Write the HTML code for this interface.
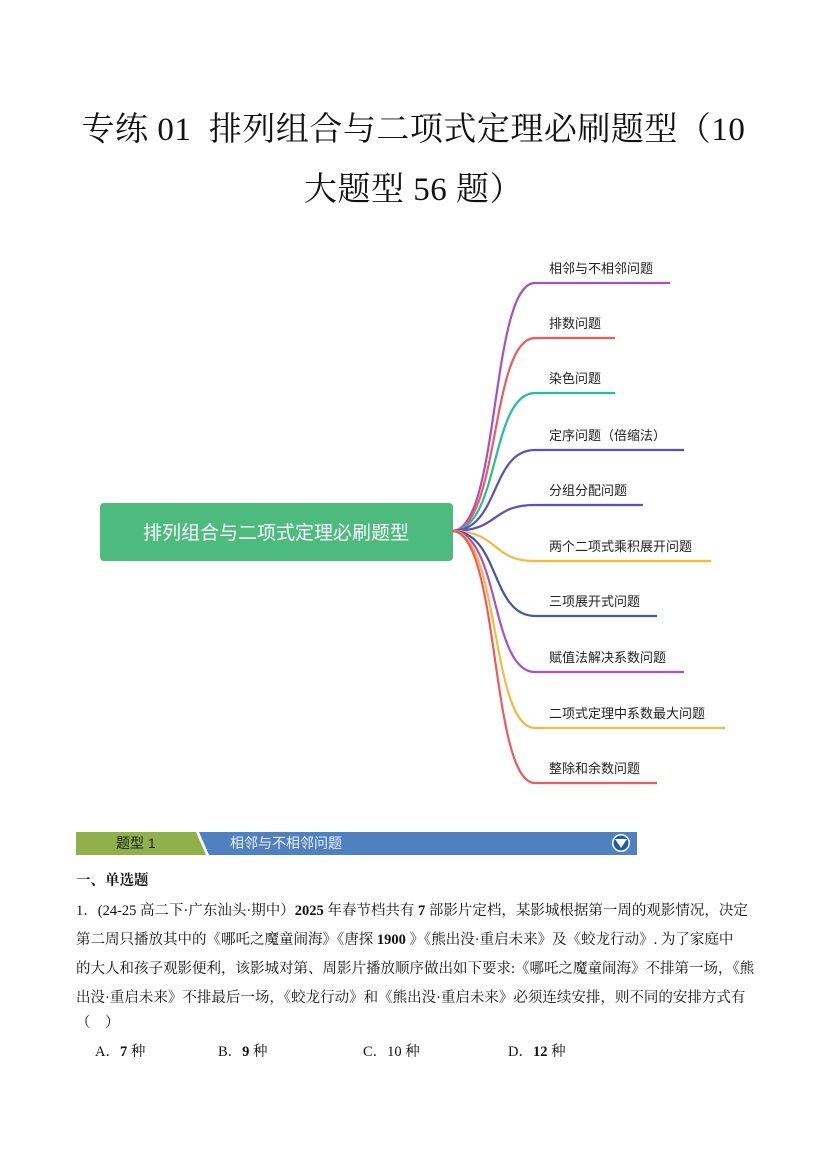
<!DOCTYPE html>
<html><head><meta charset="utf-8"><style>
body{margin:0;background:#fff;}
.p{position:relative;width:827px;height:1169px;overflow:hidden;font-family:"Liberation Serif","Noto Serif CJK SC",serif;}
.t{position:absolute;left:0;width:827px;text-align:center;font-size:33px;color:#111;letter-spacing:0.5px;}
.q{position:absolute;left:76px;font-size:14.5px;color:#111;white-space:nowrap;}
b{font-weight:bold;}
</style></head><body><div class="p">
<div class="t" style="top:103px;">专练 01&nbsp; 排列组合与二项式定理必刷题型（10</div>
<div class="t" style="top:163px;">大题型 56 题）</div>
<svg width="827" height="820" style="position:absolute;left:0;top:0" font-family="Liberation Sans,Noto Sans CJK SC,sans-serif">
<rect x="100" y="503" width="353" height="58" rx="4" fill="#4dbb7e"/>
<text x="276" y="539" text-anchor="middle" font-size="19" fill="#fff">排列组合与二项式定理必刷题型</text>
<g fill="none" stroke-width="2.2">
<path d="M452 531 C500 531 490 283 535 283 H670" stroke="#a84fc4"/>
<path d="M452 531 C500 531 490 338 535 338 H615" stroke="#ef5a5a"/>
<path d="M452 531 C500 531 490 393 535 393 H615" stroke="#22bf9c"/>
<path d="M452 531 C500 531 490 450 535 450 H684" stroke="#5a50c2"/>
<path d="M452 531 C500 531 490 505 535 505 H643" stroke="#5a50c2"/>
<path d="M452 531 C500 531 490 561 535 561 H711" stroke="#f5b942"/>
<path d="M452 531 C500 531 490 616 535 616 H657" stroke="#3f58a8"/>
<path d="M452 531 C500 531 490 672 535 672 H684" stroke="#b04fc2"/>
<path d="M452 531 C500 531 490 728 535 728 H725" stroke="#f5b942"/>
<path d="M452 531 C500 531 490 783 535 783 H657" stroke="#ef5a5a"/>
</g>
<g font-size="13" fill="#222">
<text x="549" y="273">相邻与不相邻问题</text>
<text x="549" y="328">排数问题</text>
<text x="549" y="383">染色问题</text>
<text x="549" y="440">定序问题（倍缩法）</text>
<text x="549" y="495">分组分配问题</text>
<text x="549" y="551">两个二项式乘积展开问题</text>
<text x="549" y="606">三项展开式问题</text>
<text x="549" y="662">赋值法解决系数问题</text>
<text x="549" y="718">二项式定理中系数最大问题</text>
<text x="549" y="773">整除和余数问题</text>
</g>
</svg>
<svg width="827" height="40" style="position:absolute;left:0;top:828px" font-family="Liberation Sans,Noto Sans CJK SC,sans-serif">
<polygon points="76,4 196,4 206,27 76,27" fill="#8fb04a"/>
<polygon points="199,4 637,4 637,27 209,27" fill="#4f80c0"/>
<text x="116" y="20" font-size="14" fill="#222">题型 1</text>
<text x="230" y="20" font-size="14" fill="#eef">相邻与不相邻问题</text>
<circle cx="621" cy="15" r="9" fill="#fff"/><circle cx="621" cy="15" r="7.5" fill="#1f5aa8"/>
<polygon points="615,11 627,11 621,20" fill="#fff"/>
</svg>
<div class="q" style="top:869px;"><b>一、单选题</b></div>
<div class="q" style="top:899px;">1．(24-25 高二下·广东汕头·期中）<b>2025</b> 年春节档共有 <b>7</b> 部影片定档，某影城根据第一周的观影情况，决定</div>
<div class="q" style="top:928px;">第二周只播放其中的《哪吒之魔童闹海》《唐探 <b>1900</b> 》《熊出没·重启未来》及《蛟龙行动》. 为了家庭中</div>
<div class="q" style="top:957px;">的大人和孩子观影便利，该影城对第、周影片播放顺序做出如下要求:《哪吒之魔童闹海》不排第一场，《熊</div>
<div class="q" style="top:986px;">出没·重启未来》不排最后一场，《蛟龙行动》和《熊出没·重启未来》必须连续安排，则不同的安排方式有</div>
<div class="q" style="top:1011px;">（　）</div>
<div class="q" style="top:1040px;left:95px;">A．<b>7</b> 种</div>
<div class="q" style="top:1040px;left:218px;">B．<b>9</b> 种</div>
<div class="q" style="top:1040px;left:363px;">C．10 种</div>
<div class="q" style="top:1040px;left:508px;">D．<b>12</b> 种</div>
</div></body></html>
